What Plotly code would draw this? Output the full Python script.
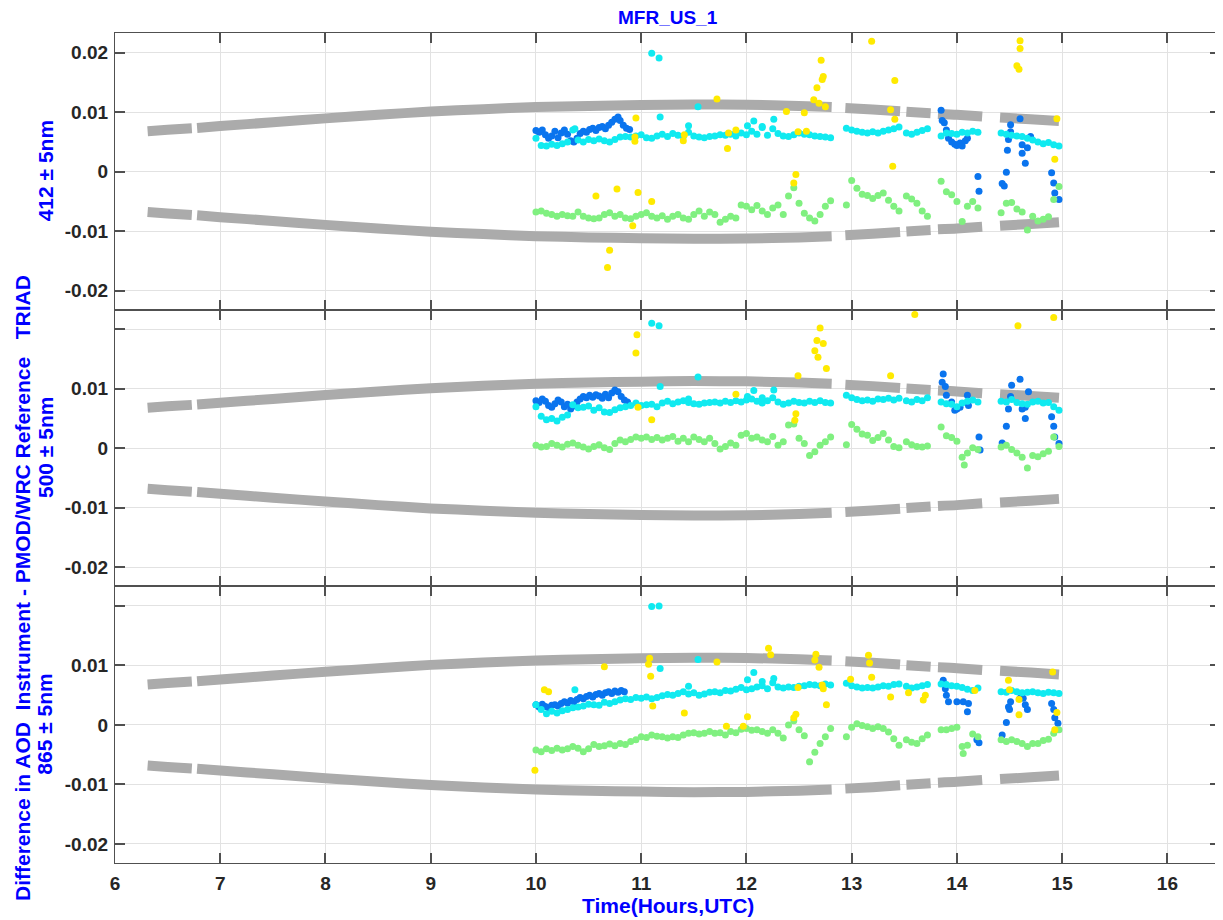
import plotly.graph_objects as go
from plotly.subplots import make_subplots

# ---------------- data (AOD differences in units of 0.001) ----------------
T_RUN = [10.00,10.05,10.10,10.15,10.20,10.25,10.30,10.35,10.40,10.45,
         10.50,10.55,10.60,10.65,10.70,10.75,10.80,10.85,10.90,10.95,
         11.00,11.05,11.10,11.15,11.20,11.25,11.30,11.35,11.40,11.45,
         11.50,11.55,11.60,11.65,11.70,11.75,11.80,11.85,11.90,11.95,
         12.00,12.05,12.10,12.15,12.20,12.25,12.30,12.35,12.40,12.45,
         12.50,12.55,12.60,12.65,12.70,12.75,12.80,
         12.95,13.00,13.05,13.10,13.15,13.20,13.25,13.30,13.35,13.40,13.45,
         13.52,13.57,13.62,13.67,13.72,
         13.85,13.90,13.95,14.00,14.05,14.10,14.15,14.20,
         14.42,14.47,14.52,14.57,14.62,14.67,14.72,14.77,14.82,14.87,14.92,14.97]

LIMIT_T = [6.31,6.50,6.73,None,6.78,7.00,7.50,8.00,8.50,9.00,9.50,10.00,10.50,11.00,11.50,
           12.00,12.50,12.81,None,12.94,13.20,13.46,None,13.52,13.75,None,13.82,14.00,14.24,
           None,14.41,14.70,14.97]
LIMIT_V = [6.8,7.05,7.3,None,7.35,7.65,8.3,8.95,9.55,10.1,10.5,10.85,11.05,11.2,11.3,
           11.25,11.05,10.85,None,10.7,10.45,10.15,None,10.05,9.8,None,9.7,9.55,9.25,
           None,9.1,8.8,8.5]

# ---- 412 nm ----
GREEN_412 = [-6.8,-6.6,-7.0,-7.2,-7.5,-7.2,-7.4,-7.5,-6.8,-7.5,
             -7.8,-7.9,-7.8,-7.2,-6.9,-7.5,-7.2,-7.8,-7.9,-7.5,
             -7.2,-6.9,-7.5,-7.8,-7.4,-8.0,-7.5,-7.2,-7.8,-8.0,
             -7.2,-6.6,-7.5,-6.8,-7.2,-8.5,-8.0,-7.5,-7.8,-5.6,
             -5.8,-6.4,-5.7,-6.6,-7.2,-6.1,-5.6,-7.2,-4.1,-2.7,
             -5.3,-7.0,-7.8,-8.3,-7.2,-5.8,-4.9,
             -5.6,-1.5,-2.8,-3.8,-4.0,-4.5,-4.0,-3.6,-4.8,-5.8,-6.6,
             -4.1,-4.6,-5.3,-6.6,-7.5,
             -1.6,-3.4,-3.9,-5.0,-8.4,-5.8,-5.0,-6.1,
             -6.9,-5.3,-5.2,-6.3,-6.8,-9.8,-7.5,-8.3,-8.0,-7.6,-4.7,-2.5]
CYAN_412 = [5.6,4.4,4.3,4.6,4.4,4.7,5.0,7.0,5.3,5.0,
            5.4,5.2,5.5,5.2,5.0,5.4,5.8,5.9,5.8,6.0,
            6.2,5.7,5.6,6.0,6.3,5.9,6.4,6.1,5.9,6.6,
            6.0,5.8,5.7,5.9,6.0,6.2,6.1,6.3,6.0,6.5,
            6.2,6.8,6.3,7.4,6.1,7.2,6.4,6.0,5.9,6.2,
            6.5,6.3,6.2,6.0,5.9,5.8,5.7,
            7.3,7.0,6.8,6.6,6.5,6.7,6.5,6.8,7.0,7.2,7.5,
            6.5,6.3,6.6,6.9,7.2,
            6.0,6.5,6.4,6.3,6.6,6.5,6.8,6.6,
            6.5,6.3,6.1,6.0,5.9,5.6,5.3,5.0,4.7,4.9,4.5,4.3]
CYAN_412_XT = [10.37,11.10,11.17,11.18,11.45,11.54,12.01,12.07,12.15,12.26]
CYAN_412_XV = [7.2,19.9,19.1,9.2,7.7,10.9,7.7,8.5,7.6,8.8]
BLUE_412_T = [10.00,10.03,10.06,10.09,10.12,10.15,10.18,10.21,10.24,10.27,10.30,10.33,10.36,10.39,10.42,
              10.45,10.48,10.51,10.54,10.57,10.60,10.63,10.66,10.69,10.72,10.75,10.78,10.80,10.83,10.86,10.89,
              13.85,13.86,13.88,13.90,13.92,13.95,13.98,14.00,14.03,14.05,14.08,14.10,14.20,14.21,
              14.43,14.45,14.47,14.48,14.49,14.51,14.51,14.60,14.62,14.62,14.65,14.67,14.70,
              14.90,14.92,14.93,14.97]
BLUE_412_V = [6.9,6.6,7.0,6.2,5.6,6.0,6.8,5.7,6.5,7.0,6.3,5.2,5.0,5.6,6.4,
              6.8,6.6,7.1,7.3,6.9,7.4,7.6,7.2,7.8,8.3,8.8,9.2,8.6,7.8,7.3,7.1,
              10.3,8.6,8.2,7.0,5.6,5.0,4.6,4.4,4.8,4.3,5.2,5.6,-0.8,-3.3,
              -2.0,-2.4,-0.1,3.6,5.4,7.9,6.7,8.9,4.5,3.1,1.4,4.0,5.9,
              -0.2,-1.9,-3.6,-4.7]
YELLOW_412_T = [10.57,10.68,10.70,10.77,10.92,10.94,10.94,10.95,10.97,11.10,11.40,11.41,11.72,11.82,11.83,
                11.90,12.38,12.45,12.47,12.49,12.55,12.57,12.64,12.67,12.69,12.71,12.72,12.73,12.75,13.19,
                13.37,13.39,13.41,13.41,14.57,14.59,14.60,14.60,14.93,14.95]
YELLOW_412_V = [-4.1,-16.1,-13.2,-2.9,-9.1,5.1,5.8,9.0,-3.5,-5.0,5.2,6.2,12.2,3.9,6.5,
                7.0,10.1,-1.9,-0.5,6.7,9.9,6.8,12.1,14.1,11.5,18.7,15.5,16.0,10.9,21.9,
                10.4,0.9,8.8,15.3,17.8,17.2,20.7,22.0,2.1,8.9]

# ---- 500 nm ----
GREEN_500 = [0.5,0.2,0.3,0.8,0.5,0.2,0.7,0.9,0.5,0.2,
             -0.1,0.3,0.6,0.1,-0.2,0.8,1.4,1.1,1.5,1.9,
             1.7,1.9,1.5,1.8,1.4,1.7,2.0,1.2,1.7,1.1,
             1.9,1.5,1.1,1.7,0.8,-0.1,0.3,0.9,0.5,2.2,
             2.5,1.7,1.9,1.4,1.1,2.0,0.5,1.1,3.9,4.1,
             1.7,0.8,-1.2,-0.6,0.5,1.1,1.9,
             0.6,4.0,3.2,2.4,2.2,1.3,1.8,2.5,1.4,0.3,0.1,
             1.1,0.6,0.3,0.2,0.4,
             3.6,2.1,1.8,1.2,-1.5,-0.8,0.1,-0.2,
             0.2,0.5,-0.2,-0.8,-1.5,-3.3,-1.2,-1.4,-0.9,-0.5,1.9,0.3]
GREEN_500_XT = [14.07]
GREEN_500_XV = [-2.8]
CYAN_500 = [7.0,5.4,4.8,5.0,4.6,5.2,5.6,7.3,6.8,6.9,
            7.1,6.4,6.8,6.1,6.0,6.5,6.8,7.0,7.2,7.6,
            7.2,7.3,7.4,7.0,7.6,7.9,7.5,7.8,8.0,7.7,
            7.5,7.4,7.6,7.7,7.8,7.6,7.9,7.7,8.0,7.8,
            8.1,8.3,7.9,7.6,8.0,8.5,7.8,7.4,7.6,7.9,
            7.7,7.6,7.9,7.7,8.0,7.7,7.6,
            8.9,8.5,8.2,8.0,8.1,7.9,8.3,8.2,8.4,8.1,8.4,
            8.0,7.8,8.2,8.0,8.5,
            7.8,7.5,7.4,7.0,7.6,7.9,8.1,7.8,
            7.9,7.8,8.2,7.7,7.5,7.4,7.8,7.9,7.6,7.7,7.0,6.4]
CYAN_500_XT = [11.10,11.17,11.18,11.45,11.54,12.01,12.07,12.15,12.26]
CYAN_500_XV = [21.0,20.6,10.4,8.3,12.0,8.7,9.7,8.5,9.8]
BLUE_500_T = [10.00,10.03,10.06,10.09,10.12,10.15,10.18,10.21,10.24,10.27,10.30,10.33,10.36,10.39,10.42,
              10.45,10.48,10.51,10.54,10.57,10.60,10.63,10.66,10.69,10.72,10.75,10.78,10.81,10.84,10.87,
              13.86,13.87,13.89,13.90,13.95,13.98,14.00,14.03,14.10,14.11,14.21,14.22,
              14.43,14.47,14.49,14.51,14.52,14.60,14.62,14.65,14.65,14.68,
              14.90,14.92,14.93,14.97]
BLUE_500_V = [8.0,7.7,8.3,7.9,7.2,6.9,7.5,8.1,7.8,7.0,7.4,6.6,7.1,7.8,8.3,
              8.7,8.5,8.9,8.6,9.0,8.8,8.4,9.1,8.5,9.3,9.8,9.5,8.7,8.1,7.8,
              11.1,12.5,10.4,8.9,7.8,6.4,6.6,6.9,8.9,7.2,1.9,-0.3,
              0.9,3.7,6.6,8.7,10.6,11.6,6.6,6.9,5.0,9.5,
              5.3,3.7,1.9,0.8]
YELLOW_500_T = [10.95,10.96,10.97,11.10,11.90,12.46,12.47,12.49,12.65,12.67,12.68,12.70,12.73,12.76,
                13.37,13.60,14.58,14.92]
YELLOW_500_V = [16.0,19.1,6.9,4.8,9.1,4.7,5.8,12.2,16.4,18.1,15.3,20.2,17.6,13.4,
                12.2,22.5,20.6,22.0]

# ---- 865 nm ----
GREEN_865 = [-4.2,-4.5,-4.0,-4.3,-3.9,-4.2,-4.0,-3.6,-3.9,-4.5,
             -4.0,-3.3,-3.6,-3.5,-3.2,-3.5,-3.1,-3.3,-2.8,-2.5,
             -2.0,-2.1,-1.7,-1.9,-2.0,-2.2,-2.0,-2.1,-1.7,-1.4,
             -1.3,-1.5,-1.4,-1.1,-1.4,-1.3,-1.7,-1.1,-1.3,-0.7,
             -0.6,-0.9,-0.8,-1.1,-1.4,-0.8,-1.4,-2.2,0.0,0.7,
             -0.8,-1.8,-6.2,-4.6,-3.1,-2.0,-0.6,
             -2.0,-0.4,0.2,-0.1,-0.3,-0.6,-0.3,-0.6,-1.2,-2.3,-3.4,
             -2.5,-2.9,-3.1,-2.3,-1.7,
             -0.8,-0.8,-0.6,-0.4,-3.6,-3.4,-1.5,-2.0,
             -2.5,-2.8,-2.5,-2.8,-3.1,-3.6,-3.1,-3.1,-2.6,-2.4,-1.4,-0.8]
GREEN_865_XT = [14.06]
GREEN_865_XV = [-4.8]
CYAN_865 = [3.4,2.6,1.9,2.3,2.0,2.4,2.6,2.9,3.0,3.2,
            3.5,3.4,3.3,3.8,3.6,3.9,4.2,4.4,4.3,4.6,
            4.5,4.7,4.4,4.6,4.9,5.1,5.0,5.3,5.6,5.2,
            5.4,5.0,5.2,5.5,5.6,5.4,5.8,5.7,6.0,6.3,
            5.9,6.1,6.4,6.6,6.1,7.1,6.4,6.2,6.4,6.3,
            6.5,6.6,6.8,6.7,6.6,6.9,6.7,
            7.0,6.6,6.4,6.2,6.3,6.2,6.4,6.6,6.5,6.8,6.9,
            6.5,6.2,6.4,6.6,6.8,
            6.9,6.8,6.6,6.5,6.3,6.0,5.8,6.2,
            5.6,5.5,5.8,5.6,5.4,5.5,5.6,5.4,5.3,5.5,5.4,5.3]
CYAN_865_XT = [10.37,11.10,11.17,11.18,11.45,11.54,12.01,12.07,12.15,12.26]
CYAN_865_XV = [5.9,19.9,20.0,9.5,6.5,11.0,7.6,8.8,7.3,7.8]
BLUE_865_T = [10.00,10.03,10.06,10.09,10.12,10.15,10.18,10.21,10.24,10.27,10.30,10.33,10.36,10.39,10.42,
              10.45,10.48,10.51,10.54,10.57,10.60,10.63,10.66,10.69,10.72,10.75,10.78,10.81,10.84,
              13.87,13.89,13.90,13.92,14.00,14.06,14.10,14.11,14.19,14.21,
              14.43,14.47,14.49,14.50,14.51,14.60,14.63,14.65,14.67,
              14.90,14.92,14.93,14.96]
BLUE_865_V = [3.4,3.0,3.5,3.1,2.9,3.3,3.4,3.2,3.6,3.9,3.7,4.1,3.9,4.3,4.6,
              4.4,4.8,5.0,4.7,5.1,5.3,5.0,5.4,5.6,5.3,5.7,5.5,5.8,5.6,
              7.5,6.1,5.0,3.9,3.9,3.9,2.2,3.6,-2.5,-3.0,
              -1.7,0.4,3.0,2.6,3.9,4.5,4.5,3.4,2.6,
              3.6,2.6,1.2,0.3]
YELLOW_865_T = [9.99,10.08,10.12,10.65,11.07,11.08,11.09,11.11,11.41,11.72,11.81,11.97,12.01,12.21,12.23,
                12.45,12.47,12.49,12.65,12.66,12.69,12.72,12.73,12.76,12.99,13.16,13.17,13.19,13.37,13.54,
                13.68,13.70,14.17,14.49,14.50,14.59,14.59,14.91,14.93,14.95]
YELLOW_865_V = [-7.6,5.9,5.6,9.8,10.2,11.2,8.2,3.2,2.0,10.6,-0.2,-0.2,1.4,12.9,11.8,
                1.2,1.8,6.3,10.9,11.9,9.7,6.7,6.1,3.4,7.7,11.7,10.4,8.0,4.7,5.4,
                4.2,5.0,5.8,7.5,5.9,4.3,1.7,8.9,-0.8,2.1]

PANEL_LABELS = ["412 \u00b1 5nm", "500 \u00b1 5nm", "865 \u00b1 5nm"]
X_TICKS = [6, 7, 8, 9, 10, 11, 12, 13, 14, 15, 16]
Y_TICKS = [-0.02, -0.01, 0, 0.01, 0.02]
Y_TEXT_TOP = ["-0.02", "-0.01", "0", "0.01", "0.02"]
Y_TEXT_LOW = ["-0.02", "-0.01", "0", "0.01", ""]

# ---------------- styling ----------------
C_GRAY = "#ababab"
C_BLUE = "#0a74ee"
C_CYAN = "#10eaf0"
C_GREEN = "#80f080"
C_YELLOW = "#ffea00"
FONT = "Liberation Sans, Arial, sans-serif"
MS = 7


def milli(vals):
    return [None if v is None else v * 1e-3 for v in vals]


fig = make_subplots(rows=3, cols=1, shared_xaxes=True, vertical_spacing=0)

panels = [
    (GREEN_412, CYAN_412, CYAN_412_XT, CYAN_412_XV, [], [], BLUE_412_T, BLUE_412_V, YELLOW_412_T, YELLOW_412_V),
    (GREEN_500, CYAN_500, CYAN_500_XT, CYAN_500_XV, GREEN_500_XT, GREEN_500_XV, BLUE_500_T, BLUE_500_V, YELLOW_500_T, YELLOW_500_V),
    (GREEN_865, CYAN_865, CYAN_865_XT, CYAN_865_XV, GREEN_865_XT, GREEN_865_XV, BLUE_865_T, BLUE_865_V, YELLOW_865_T, YELLOW_865_V),
]

for i, (g, c, cxt, cxv, gxt, gxv, bt, bv, yt, yv) in enumerate(panels):
    r = i + 1
    for sign in (1, -1):
        fig.add_trace(go.Scatter(
            x=LIMIT_T, y=[None if v is None else sign * v * 1e-3 for v in LIMIT_V],
            mode="lines", line=dict(color=C_GRAY, width=10, shape="spline", smoothing=0.6),
            connectgaps=False, hoverinfo="skip", showlegend=False), row=r, col=1)
    fig.add_trace(go.Scatter(x=bt, y=milli(bv), mode="markers",
                             marker=dict(color=C_BLUE, size=MS), showlegend=False), row=r, col=1)
    fig.add_trace(go.Scatter(x=T_RUN + cxt, y=milli(c + cxv), mode="markers",
                             marker=dict(color=C_CYAN, size=MS), showlegend=False), row=r, col=1)
    fig.add_trace(go.Scatter(x=T_RUN + gxt, y=milli(g + gxv), mode="markers",
                             marker=dict(color=C_GREEN, size=MS), showlegend=False), row=r, col=1)
    fig.add_trace(go.Scatter(x=yt, y=milli(yv), mode="markers",
                             marker=dict(color=C_YELLOW, size=MS), showlegend=False), row=r, col=1)

axis_common = dict(showline=True, linecolor="#505050", linewidth=1.2, mirror="allticks",
                   ticks="inside", ticklen=10, tickwidth=1.5, tickcolor="#505050",
                   showgrid=True, gridcolor="#e2e2e2", gridwidth=1, zeroline=False,
                   automargin=False,
                   tickfont=dict(family=FONT, size=19, color="#262626", weight="bold"))

for r in (1, 2, 3):
    fig.update_xaxes(range=[6, 16.5], tickvals=X_TICKS, ticktext=[str(v) for v in X_TICKS],
                     showticklabels=(r == 3), ticklabelstandoff=3, **axis_common, row=r, col=1)
    fig.update_yaxes(range=[-0.0232, 0.0233], tickvals=Y_TICKS,
                     ticktext=Y_TEXT_TOP if r == 1 else Y_TEXT_LOW,
                     ticklabelstandoff=2, **axis_common, row=r, col=1)

# The page body adds an 8 px offset, so the figure is sized/margined to land
# the plot area at x 115..1220, y 33..863 of the 1223x920 window.
OFF = 8
PL, PR, PT = 115 - OFF, 3, 33 - OFF
W, H = 1223 - OFF, 920 - OFF
PB = H - PT - 830
PW, PH = W - PL - PR, H - PT - PB


def px_x(x):
    return (x - OFF - PL) / PW


def px_y(y):
    return (H - PB - (y - OFF)) / PH


lab_font = dict(family=FONT, size=21, color="#0000ff", weight="bold")
annotations = []
for i, lab in enumerate(PANEL_LABELS):
    annotations.append(dict(text=lab, x=px_x(45), y=1 - (i + 0.5) / 3, xref="paper", yref="paper",
                            textangle=-90, showarrow=False, font=lab_font,
                            xanchor="center", yanchor="middle"))
annotations.append(dict(
    text="Difference in AOD\u00a0\u00a0Instrument - PMOD/WRC Reference\u00a0\u00a0\u00a0TRIAD",
    x=px_x(22), y=px_y(588), xref="paper", yref="paper", textangle=-90, showarrow=False,
    font=lab_font, xanchor="center", yanchor="middle"))
annotations.append(dict(text="Time(Hours,UTC)", x=0.5, y=px_y(905), xref="paper", yref="paper",
                        showarrow=False, font=lab_font, xanchor="center", yanchor="middle"))
annotations.append(dict(text="MFR_US_1", x=0.5, y=px_y(17), xref="paper", yref="paper",
                        showarrow=False, font=dict(family=FONT, size=19, color="#0000ff", weight="bold"),
                        xanchor="center", yanchor="middle"))

fig.update_layout(width=W, height=H, margin=dict(l=PL, r=PR, t=PT, b=PB, autoexpand=False),
                  paper_bgcolor="white", plot_bgcolor="white",
                  annotations=annotations, showlegend=False)

fig.write_html("out.html")
